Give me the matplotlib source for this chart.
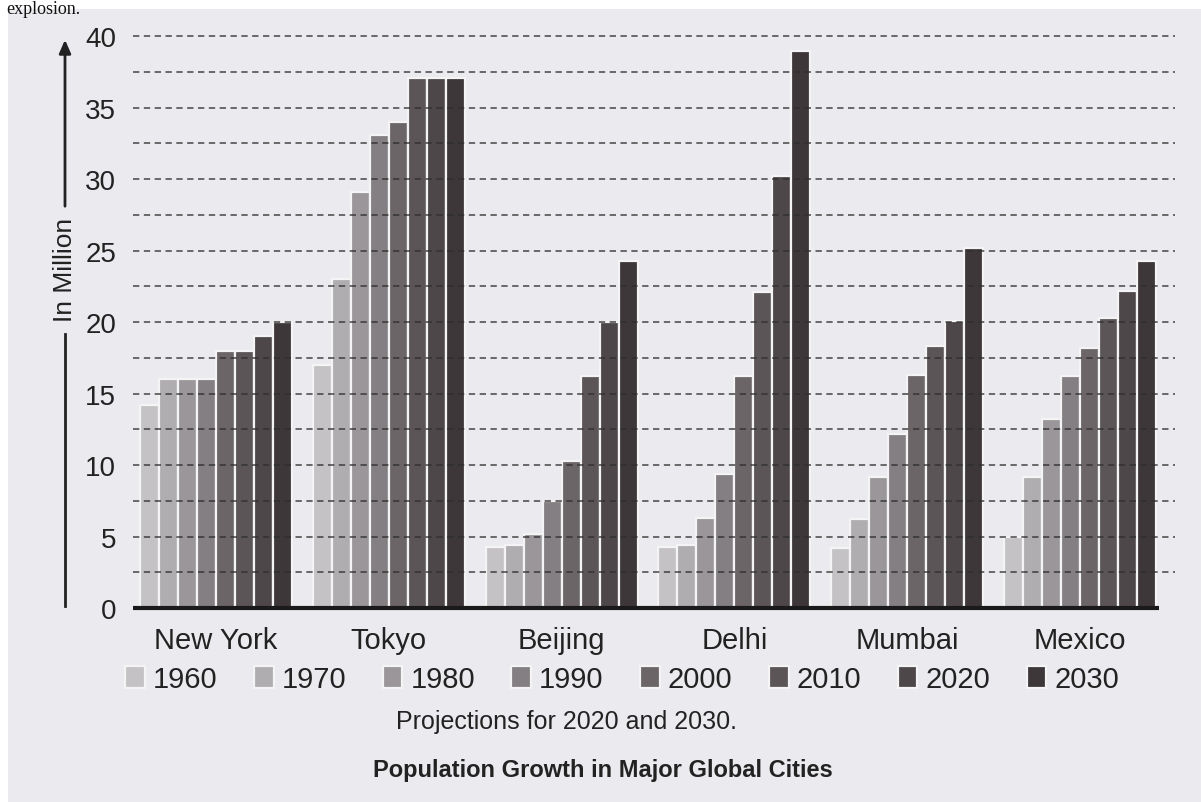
import numpy as np
import matplotlib
matplotlib.use("Agg")
import matplotlib.pyplot as plt
from matplotlib.patches import Rectangle
from matplotlib.lines import Line2D

# =====================================================
# DATA
# =====================================================

cities = ["New York", "Tokyo", "Beijing", "Delhi", "Mumbai", "Mexico"]
years = ["1960", "1970", "1980", "1990", "2000", "2010", "2020", "2030"]

new_york = [14.2, 16.0, 16.0, 16.0, 18.0, 18.0, 19.0, 20.0]
tokyo = [17.0, 23.0, 29.1, 33.1, 34.0, 37.1, 37.1, 37.1]
beijing = [4.3, 4.4, 5.2, 7.5, 10.3, 16.2, 20.0, 24.3]
delhi = [4.3, 4.4, 6.3, 9.4, 16.2, 22.1, 30.2, 39.0]
mumbai = [4.2, 6.2, 9.2, 12.2, 16.3, 18.3, 20.1, 25.2]
mexico = [5.0, 9.2, 13.2, 16.2, 18.2, 20.3, 22.2, 24.3]

yticks = [0, 5, 10, 15, 20, 25, 30, 35, 40]

# =====================================================
# STYLE
# =====================================================

bg = "#ebebef"
year_colors = ["#c4c2c5", "#b0adb0", "#9a9699", "#837f82",
               "#6b6567", "#5c5557", "#4e4749", "#3d3739"]

plt.rcParams["font.family"] = ["Liberation Sans", "DejaVu Sans"]

fig = plt.figure(figsize=(12.01, 8.03), dpi=100)
fig.patch.set_facecolor("white")

# scanned page area
fig.patches.append(Rectangle((8 / 1201, 0), 1, 793 / 803,
                             transform=fig.transFigure,
                             facecolor=bg, edgecolor="none", zorder=-10))
fig.text(0.005, 0.999, "explosion.", family="Liberation Serif",
         fontsize=13, va="top", ha="left", color="#111111")

ax = fig.add_axes([133 / 1201, 194 / 803, 1042 / 1201, 586 / 803])
ax.set_facecolor(bg)

# =====================================================
# BARS
# =====================================================

table = np.array([new_york, tokyo, beijing, delhi, mumbai, mexico])
x = np.arange(len(cities))
w = 0.11

for i, yr in enumerate(years):
    ax.bar(x + (i - 3.5) * w, table[:, i], width=w,
           color=year_colors[i], edgecolor="#f4f4f4", linewidth=1.6,
           label=yr, zorder=2)

# dashed grid every 2.5
for g in np.arange(2.5, 40.1, 2.5):
    ax.axhline(g, color="#2e2e2e", linestyle=(0, (3.5, 2.5)),
               linewidth=1.3, alpha=0.75, zorder=3)

ax.plot([-0.48, 5.46], [0, 0], color="#1a1a1a", linewidth=3,
        zorder=4, solid_capstyle="butt", clip_on=False)

ax.set_xlim(-0.48, 5.55)
ax.set_ylim(0, 41)

for s in ax.spines.values():
    s.set_visible(False)

ax.set_yticks(yticks)
ax.set_yticklabels([str(t) for t in yticks], fontsize=20, color="#222222")
ax.tick_params(axis="y", length=0, pad=12)

ax.set_xticks(x)
ax.set_xticklabels(cities, fontsize=21, color="#222222")
ax.tick_params(axis="x", length=0, pad=13)

# =====================================================
# Y LABEL WITH ARROW
# =====================================================

fig.text(65 / 1201, 1 - 270 / 803, "In Million", rotation=90,
         fontsize=19, ha="center", va="center", color="#222222")
fig.add_artist(Line2D([65 / 1201, 65 / 1201],
                      [1 - 607 / 803, 1 - 335 / 803],
                      color="#222222", linewidth=2))
ax.annotate("", xy=(65 / 1201, 1 - 38 / 803), xycoords="figure fraction",
            xytext=(65 / 1201, 1 - 210 / 803), textcoords="figure fraction",
            arrowprops=dict(arrowstyle="-|>,head_length=0.8,head_width=0.35",
                            color="#222222", linewidth=2))

# =====================================================
# LEGEND AND CAPTIONS
# =====================================================

fig.legend(loc="center", bbox_to_anchor=(622 / 1201, 1 - 680 / 803),
           ncol=8, frameon=False, fontsize=21, handlelength=0.68,
           handleheight=0.75, handletextpad=0.27, columnspacing=1.25,
           labelcolor="#222222")

fig.text(566 / 1201, 1 - 722 / 803, "Projections for 2020 and 2030.",
         fontsize=18, ha="center", va="center", color="#222222")
fig.text(603 / 1201, 1 - 771 / 803, "Population Growth in Major Global Cities",
         fontsize=17, fontweight="bold", ha="center", va="center",
         color="#222222")

fig.savefig("out.png", dpi=100, facecolor=fig.get_facecolor())
